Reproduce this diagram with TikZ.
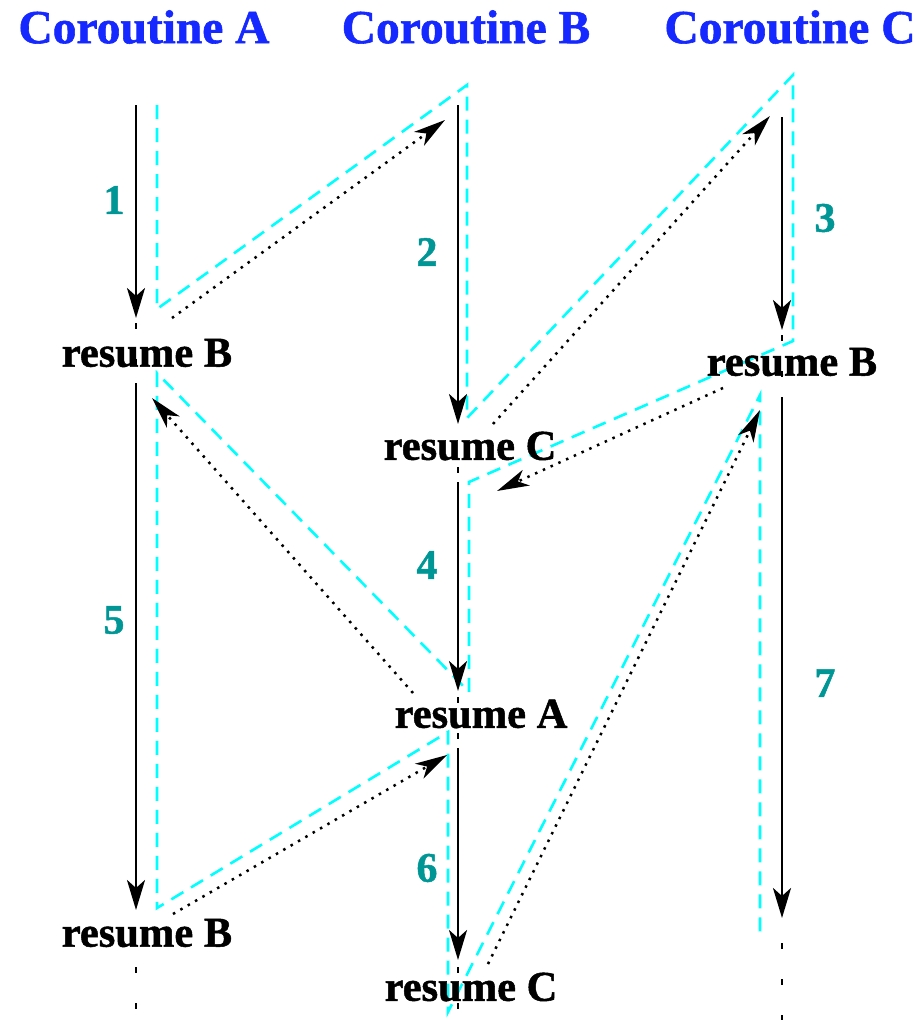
\documentclass[tikz,border=0pt]{standalone}
\usepackage{fontspec}
\setmainfont{Liberation Serif}
\newfontfamily\heavyfont[FakeBold=1.2]{Liberation Serif Bold}
\usetikzlibrary{arrows.meta}
\definecolor{ttlblue}{RGB}{20,40,255}
\definecolor{numteal}{RGB}{0,150,150}
\definecolor{tracecyan}{RGB}{0,255,255}
\tikzset{
  ttl/.style={text=ttlblue, font=\fontsize{47.5}{47.5}\selectfont\heavyfont, inner sep=0pt},
  lbl/.style={font=\fontsize{42.5}{42.5}\selectfont\heavyfont, inner sep=0pt},
  numlbl/.style={text=numteal, font=\fontsize{42}{42}\selectfont\heavyfont, inner sep=0pt},
  flow/.style={line width=2.8pt, -{Stealth[length=30pt,width=18pt,inset=8pt]}},
  cont/.style={line width=2.8pt, dash pattern=on 6pt off 30pt},
  trace/.style={tracecyan, line width=2.6pt, dash pattern=on 14pt off 9pt},
  jump/.style={line width=2.5pt, dash pattern=on 2.5pt off 6pt, -{Stealth[length=32pt,width=17pt,inset=9pt]}},
}
\begin{document}
\begin{tikzpicture}[x=1pt,y=-1pt]
\useasboundingbox (0,0) rectangle (921,1020);

% titles
\node[ttl] (tA) at (144,27) {Coroutine A};
\node[ttl] (tB) at (466,27) {Coroutine B};
\node[ttl] (tC) at (790,27) {Coroutine C};

% cyan trace
\coordinate (t0) at (157,105);
\coordinate (t1) at (157,309);
\coordinate (t2) at (467,85);
\coordinate (t3) at (467,418);
\coordinate (t4) at (793,75);
\coordinate (t5) at (793,341);
\coordinate (t6) at (469,482);
\coordinate (t7) at (469,692);
\coordinate (t8) at (157,373);
\coordinate (t9) at (157,908);
\coordinate (t10) at (448,732);
\coordinate (t11) at (448,1012);
\coordinate (t12) at (760,395);
\coordinate (t13) at (760,940);
\draw[trace] (t0) -- (t1) -- (t2) -- (t3) -- (t4) -- (t5) -- (t6) -- (t7) -- (t8) -- (t9) -- (t10) -- (t11) -- (t12) -- (t13);

% column A
\coordinate (a0) at (136,105);
\coordinate (a1) at (136,318);
\coordinate (a1c) at (136,323);
\coordinate (a2) at (136,383);
\coordinate (a3) at (136,910);
\coordinate (a3c) at (136,967);
\coordinate (a4) at (136,1020);
\draw[flow] (a0) -- (a1);
\draw[cont] (a1c) -- (a2);
\draw[flow] (a2) -- (a3);
\draw[cont] (a3c) -- (a4);

% column B
\coordinate (b0) at (458,105);
\coordinate (b1) at (458,424);
\coordinate (b1c) at (458,467);
\coordinate (b2) at (458,482);
\coordinate (b3) at (458,691);
\coordinate (b3c) at (458,697);
\coordinate (b4) at (458,748);
\coordinate (b5) at (458,960);
\coordinate (b5c) at (458,967);
\coordinate (b6) at (458,1020);
\draw[flow] (b0) -- (b1);
\draw[cont] (b1c) -- (b2);
\draw[flow] (b2) -- (b3);
\draw[cont] (b3c) -- (b4);
\draw[flow] (b4) -- (b5);
\draw[cont] (b5c) -- (b6);

% column C
\coordinate (c0) at (782,117);
\coordinate (c1) at (782,330);
\coordinate (c1c) at (782,335);
\coordinate (c2) at (782,397);
\coordinate (c3) at (782,918);
\coordinate (c3c) at (782,943);
\coordinate (c4) at (782,1020);
\draw[flow] (c0) -- (c1);
\draw[cont] (c1c) -- (c2);
\draw[flow] (c2) -- (c3);
\draw[cont] (c3c) -- (c4);

% labels
\node[lbl] (lA1) at (147,353) {resume B};
\node[lbl] (lA2) at (147,933) {resume B};
\node[lbl] (lB1) at (470,446) {resume C};
\node[lbl] (lB2) at (481,714) {resume A};
\node[lbl] (lB3) at (471,987) {resume C};
\node[lbl] (lC1) at (792,362) {resume B};

% numbers
\node[numlbl] (n1) at (114,200) {1};
\node[numlbl] (n2) at (427,252) {2};
\node[numlbl] (n3) at (825,218) {3};
\node[numlbl] (n4) at (427,565) {4};
\node[numlbl] (n5) at (114,620) {5};
\node[numlbl] (n6) at (427,868) {6};
\node[numlbl] (n7) at (825,683) {7};

% jumps (dotted)
\coordinate (j1s) at (172,318);
\coordinate (j1e) at (445,120);
\coordinate (j2s) at (493,424);
\coordinate (j2e) at (770,116);
\coordinate (j3s) at (723,388);
\coordinate (j3e) at (497,491);
\coordinate (j4s) at (413,693);
\coordinate (j4e) at (152,398);
\coordinate (j5s) at (173,914);
\coordinate (j5e) at (447,755);
\coordinate (j6s) at (488,964);
\coordinate (j6e) at (760,410);
\draw[jump] (j1s) -- (j1e);
\draw[jump] (j2s) -- (j2e);
\draw[jump] (j3s) -- (j3e);
\draw[jump] (j4s) -- (j4e);
\draw[jump] (j5s) -- (j5e);
\draw[jump] (j6s) -- (j6e);
\end{tikzpicture}
\end{document}
